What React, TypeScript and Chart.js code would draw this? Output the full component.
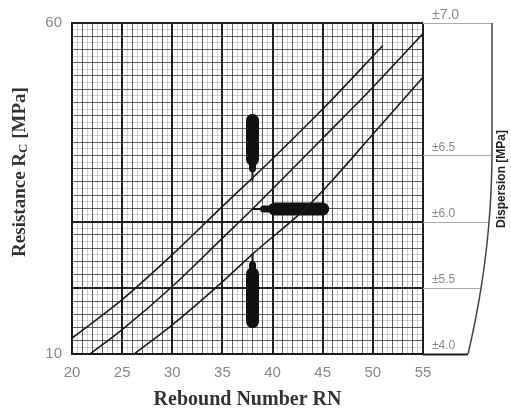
import React, { useEffect, useRef } from 'react';
import { Chart, registerables } from 'chart.js';

Chart.register(...registerables);

// ---- Axis ranges & ticks ----
const rnRange = [20, 55];
const rcRange = [10, 60];
const rnLabelStep = 5;
const rcTickLabels = [10, 60];
const rcHeavyLines = [10, 20, 30, 60];

// ---- Calibration curves (Rebound Number RN -> Resistance Rc) ----
const upperRN = [20, 25, 30, 35, 40, 45, 51];
const upperRC = [12.4, 18.2, 25.0, 32.3, 39.5, 47.0, 56.6];
const middleRN = [21.8, 25, 30, 35, 38, 45, 50, 55];
const middleRC = [10, 13.7, 20.2, 27.5, 31.9, 42.6, 50.3, 58.4];
const lowerRN = [26.2, 30, 35, 38, 43.3, 46, 50, 55];
const lowerRC = [10, 14.4, 20.9, 25.1, 32.0, 36.3, 43.2, 51.8];

// ---- Marker needles (tail -> taper -> body start -> body end) ----
const markerRN = 38;
const upperMarkerRC = [36.3, 38.0, 39.4, 45.3];
const lowerMarkerRC = [25.1, 23.5, 22.1, 14.9];
const sideMarkerRC = 31.9;
const sideMarkerRN = [38.1, 39.1, 40.2, 45.0];

// ---- Dispersion scale ----
const dispersionRC = [10, 20, 30, 40, 60];
const dispersionLabels = ['±4.0', '±5.5', '±6.0', '±6.5', '±7.0'];

const isMult = (v: number, m: number) => Math.abs(v / m - Math.round(v / m)) < 1e-6;
const zip = (xs: number[], ys: number[]) => xs.map((x, i) => ({ x, y: ys[i] }));

const HEAVY = 'rgba(20,20,20,0.95)';
const MEDIUM = 'rgba(0,0,0,0.62)';
const FAINT = 'rgba(0,0,0,0.17)';

const curve = (xs: number[], ys: number[]) => ({
  data: zip(xs, ys),
  borderColor: '#1c1c1c',
  borderWidth: 1.6,
  pointRadius: 0,
  cubicInterpolationMode: 'monotone' as const,
});

const needle = (pts: { x: number; y: number }[]) => ({
  data: pts,
  borderColor: '#111',
  borderWidth: 13,
  pointRadius: 0,
  borderCapStyle: 'round' as const,
  borderJoinStyle: 'round' as const,
  segment: { borderWidth: (c: any) => [2, 7, 13][c.p0DataIndex] },
});

const panelPlugin = {
  id: 'panel',
  afterDraw(chart: any) {
    const { ctx, chartArea: ca } = chart;
    const y = chart.scales.y;
    ctx.save();

    // right dispersion panel
    const knee = ca.top + 127;
    const full = ca.right + 69;
    const low = ca.right + 45;
    const edge = (py: number) => {
      if (py <= knee) return full;
      const f = (py - knee) / (ca.bottom - knee);
      return full - (full - low) * f * f;
    };
    dispersionRC.forEach((v) => {
      const py = Math.round(y.getPixelForValue(v)) + 0.5;
      ctx.beginPath();
      if (v === rcRange[0]) {
        ctx.strokeStyle = '#1a1a1a';
        ctx.lineWidth = 2;
      } else {
        ctx.strokeStyle = '#aaaaaa';
        ctx.lineWidth = 1;
      }
      ctx.moveTo(ca.right, py);
      ctx.lineTo(edge(py), py);
      ctx.stroke();
    });
    ctx.beginPath();
    ctx.strokeStyle = '#444';
    ctx.lineWidth = 1.5;
    for (let py = ca.top; py <= ca.bottom; py += 2) {
      const px = edge(py);
      if (py === ca.top) ctx.moveTo(px, py);
      else ctx.lineTo(px, py);
    }
    ctx.lineTo(edge(ca.bottom), ca.bottom);
    ctx.stroke();

    // Dispersion title
    ctx.save();
    ctx.translate(ca.right + 79, 179);
    ctx.rotate(-Math.PI / 2);
    ctx.font = 'bold 12px "Liberation Sans", Arial, sans-serif';
    ctx.fillStyle = '#222';
    ctx.textAlign = 'center';
    ctx.textBaseline = 'middle';
    ctx.fillText('Dispersion [MPa]', 0, 0);
    ctx.restore();

    // Y title with subscript
    ctx.save();
    ctx.translate(20, 172);
    ctx.rotate(-Math.PI / 2);
    ctx.fillStyle = '#333';
    ctx.textBaseline = 'middle';
    ctx.textAlign = 'left';
    const main = 'bold 19px "Liberation Serif", "Times New Roman", serif';
    const sub = 'bold 13px "Liberation Serif", "Times New Roman", serif';
    const parts: [string, string, number][] = [
      ['Resistance R', main, 0],
      ['C', sub, 4],
      [' [MPa]', main, 0],
    ];
    let total = 0;
    parts.forEach(([t, f]) => {
      ctx.font = f;
      total += ctx.measureText(t).width;
    });
    let x = -total / 2;
    parts.forEach(([t, f, dy]) => {
      ctx.font = f;
      ctx.fillText(t, x, dy);
      x += ctx.measureText(t).width;
    });
    ctx.restore();

    ctx.restore();
  },
};

export default function App() {
  const ref = useRef<HTMLCanvasElement>(null);

  useEffect(() => {
    const chart = new Chart(ref.current as HTMLCanvasElement, {
      type: 'line',
      data: {
        datasets: [
          curve(upperRN, upperRC),
          curve(middleRN, middleRC),
          curve(lowerRN, lowerRC),
          needle(upperMarkerRC.map((v) => ({ x: markerRN, y: v }))),
          needle(lowerMarkerRC.map((v) => ({ x: markerRN, y: v }))),
          needle(sideMarkerRN.map((v) => ({ x: v, y: sideMarkerRC }))),
        ] as any,
      },
      options: {
        responsive: false,
        animation: false,
        layout: { padding: { top: 23, left: 0, right: 0, bottom: 0 } },
        plugins: { legend: { display: false }, tooltip: { enabled: false } },
        scales: {
          x: {
            type: 'linear',
            min: rnRange[0],
            max: rnRange[1],
            afterFit: (s: any) => {
              s.height = 57;
            },
            ticks: {
              stepSize: 0.5,
              autoSkip: false,
              maxRotation: 0,
              padding: 10,
              color: '#888',
              font: { family: '"Liberation Sans", Arial, sans-serif', size: 15 },
              callback: (v: any) => (isMult(Number(v), rnLabelStep) ? String(v) : ''),
            },
            grid: {
              drawTicks: false,
              color: (c: any) => {
                const v = c.tick ? c.tick.value : 0;
                if (isMult(v, 5)) return HEAVY;
                if (isMult(v, 1)) return MEDIUM;
                return FAINT;
              },
              lineWidth: (c: any) => (c.tick && isMult(c.tick.value, 5) ? 2 : 1),
            },
            border: { color: '#1a1a1a', width: 2 },
            title: {
              display: true,
              text: 'Rebound Number RN',
              color: '#333',
              font: { family: '"Liberation Serif", "Times New Roman", serif', size: 20, weight: 'bold', lineHeight: 1.1 },
              padding: { top: 0, bottom: 0 },
            },
          },
          y: {
            type: 'linear',
            min: rcRange[0],
            max: rcRange[1],
            afterFit: (s: any) => {
              s.width = 72;
            },
            ticks: {
              stepSize: 1,
              autoSkip: false,
              padding: 10,
              color: '#888',
              font: { family: '"Liberation Sans", Arial, sans-serif', size: 15 },
              callback: (v: any) => (rcTickLabels.includes(Number(v)) ? String(v) : ''),
            },
            grid: {
              drawTicks: false,
              color: (c: any) => {
                const v = c.tick ? c.tick.value : 0;
                if (rcHeavyLines.includes(v)) return HEAVY;
                if (isMult(v, 2)) return MEDIUM;
                return FAINT;
              },
              lineWidth: (c: any) => (c.tick && rcHeavyLines.includes(c.tick.value) ? 2 : 1),
            },
            border: { color: '#1a1a1a', width: 2 },
          },
          y2: {
            type: 'linear',
            position: 'right',
            min: rcRange[0],
            max: rcRange[1],
            afterFit: (s: any) => {
              s.width = 88;
            },
            afterBuildTicks: (s: any) => {
              s.ticks = dispersionRC.map((v) => ({ value: v }));
            },
            ticks: {
              autoSkip: false,
              padding: 9,
              labelOffset: -8,
              color: '#888',
              font: (c: any) => ({
                family: '"Liberation Sans", Arial, sans-serif',
                size: c.tick && c.tick.value === rcRange[1] ? 14 : 12,
              }),
              callback: (v: any) => dispersionLabels[dispersionRC.indexOf(Number(v))] ?? '',
            },
            grid: { drawOnChartArea: false, drawTicks: false },
            border: { display: false },
          },
        },
      } as any,
      plugins: [panelPlugin],
    });
    return () => chart.destroy();
  }, []);

  return (
    <div style={{ position: 'absolute', left: 0, top: 0, width: 511, height: 411, background: '#fff' }}>
      <canvas ref={ref} width={511} height={411} style={{ display: 'block' }} />
    </div>
  );
}
